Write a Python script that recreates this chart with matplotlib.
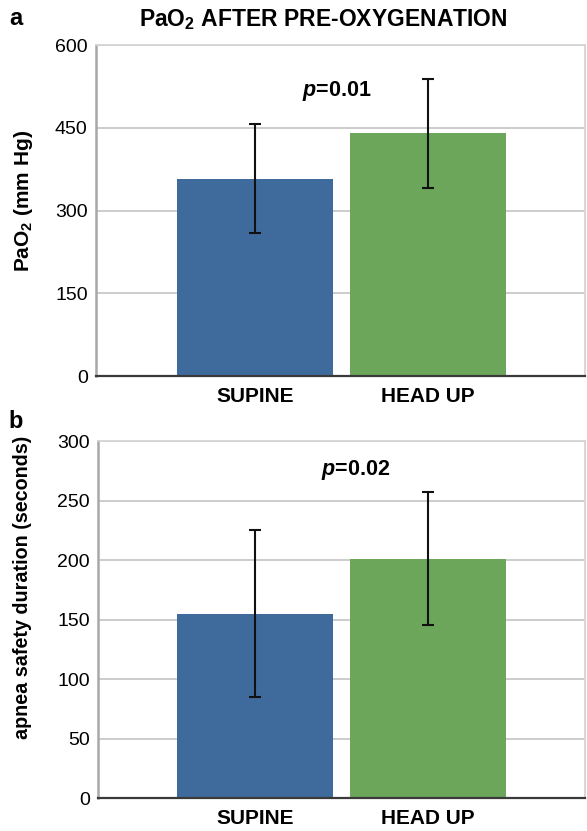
import matplotlib
matplotlib.use('Agg')
import matplotlib.pyplot as plt
import numpy as np

plt.rcParams['font.family'] = ['Liberation Sans', 'DejaVu Sans']
plt.rcParams['mathtext.fontset'] = 'custom'
plt.rcParams['mathtext.rm'] = 'Liberation Sans:bold'
plt.rcParams['mathtext.bf'] = 'Liberation Sans:bold'
plt.rcParams['mathtext.it'] = 'Liberation Sans:italic:bold'

# data
groups = ['SUPINE', 'HEAD UP']
pao2_mean = [358, 440]
pao2_err = [99, 99]
apnea_mean = [155, 201]
apnea_err = [70, 56]

bar_colors = ['#3e6b9c', '#6ca65b']

fig = plt.figure(figsize=(5.87, 8.31), dpi=100)
ax1 = fig.add_axes([0.1635, 0.5475, 0.8331, 0.3983])
ax2 = fig.add_axes([0.1670, 0.0397, 0.8296, 0.4296])


def style_axes(ax, ymax, step):
    x = np.arange(len(groups))
    ax.set_ylim(0, ymax)
    ax.set_yticks(np.arange(0, ymax + 1, step))
    ax.set_xticks(x)
    ax.set_xticklabels(groups, fontsize=15, fontweight='bold')
    ax.tick_params(axis='y', length=0, labelsize=14, pad=6)
    ax.tick_params(axis='x', length=0, pad=8)
    ax.yaxis.grid(True, color='#c8c8c8', lw=1.3)
    ax.set_axisbelow(True)
    for s in ['top', 'right']:
        ax.spines[s].set_color('#d4d4d4')
        ax.spines[s].set_linewidth(1.3)
    ax.spines['left'].set_color('#a8a8a8')
    ax.spines['left'].set_linewidth(1.8)
    ax.spines['bottom'].set_color('#3a3a3a')
    ax.spines['bottom'].set_linewidth(1.6)


x = np.arange(len(groups))
ax1.bar(x, pao2_mean, width=0.905, color=bar_colors, zorder=2)
ax1.errorbar(x, pao2_mean, yerr=pao2_err, fmt='none', ecolor='#111111',
             elinewidth=1.5, capsize=4, capthick=1.5, zorder=3)
style_axes(ax1, 600, 150)
ax1.set_xlim(-0.919, 1.908)
ax1.set_ylabel(r'PaO$_\mathbf{2}$ (mm Hg)', fontsize=15, fontweight='bold', va='center')
ax1.yaxis.set_label_coords(-0.149, 0.53)
ax1.text(0.47, 517, r'$p$=0.01', fontsize=15.5, fontweight='bold', ha='center', va='center')
fig.text(0.551, 0.976, r'PaO$_\mathbf{2}$ AFTER PRE-OXYGENATION', fontsize=16.5,
         fontweight='bold', ha='center', va='center')
fig.text(0.027, 0.978, 'a', fontsize=17, fontweight='bold', ha='center', va='center')

ax2.bar(x, apnea_mean, width=0.905, color=bar_colors, zorder=2)
ax2.errorbar(x, apnea_mean, yerr=apnea_err, fmt='none', ecolor='#111111',
             elinewidth=1.5, capsize=4, capthick=1.5, zorder=3)
style_axes(ax2, 300, 50)
ax2.set_xlim(-0.907, 1.908)
ax2.set_ylabel('apnea safety duration (seconds)', fontsize=14.2, fontweight='bold', va='center')
ax2.yaxis.set_label_coords(-0.155, 0.59)
ax2.text(0.58, 276, r'$p$=0.02', fontsize=15.5, fontweight='bold', ha='center', va='center')
fig.text(0.027, 0.493, 'b', fontsize=17, fontweight='bold', ha='center', va='center')

fig.savefig('out.png', dpi=100)
